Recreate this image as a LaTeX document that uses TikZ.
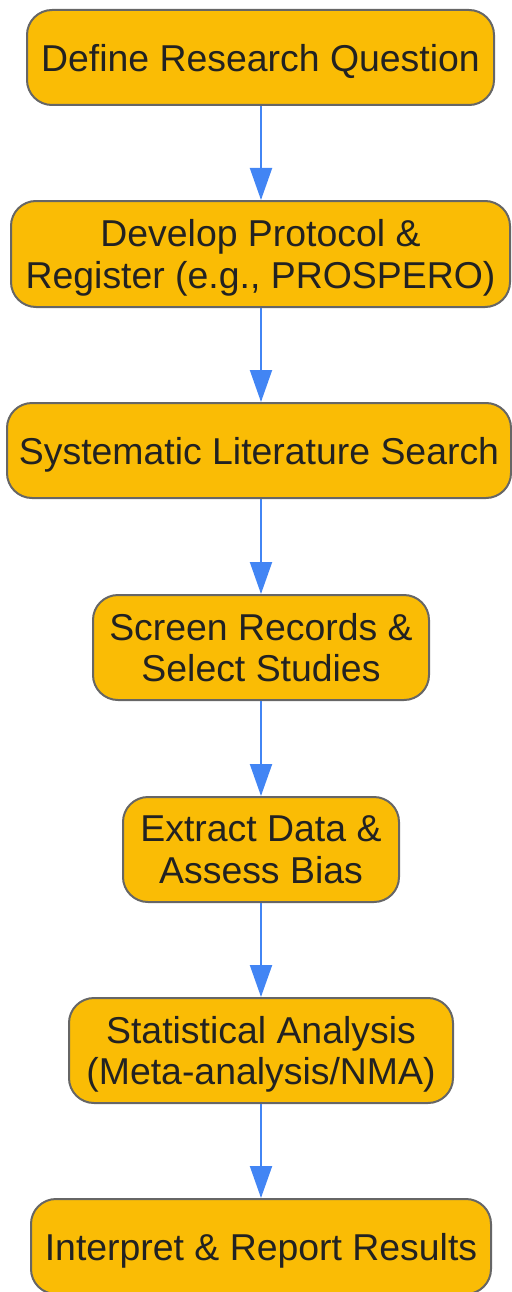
\documentclass[tikz,border=0pt]{standalone}
\usepackage{fontspec}
\setmainfont{Liberation Sans}
\usetikzlibrary{arrows.meta}
\definecolor{stepfill}{HTML}{FABC05}
\definecolor{stepline}{HTML}{666666}
\definecolor{flowarrow}{HTML}{4285F4}
\definecolor{steptext}{HTML}{222222}
\tikzset{
  stepbox/.style={draw=stepline, fill=stepfill, line width=2pt, rounded corners=25pt,
    text=steptext, align=center, inner sep=0pt, text depth=0pt,
    font=\fontsize{37.4}{41.5}\selectfont},
  flow/.style={draw=flowarrow, line width=2pt, -{Triangle[length=32pt,width=22pt]}}
}
\begin{document}
\begin{tikzpicture}[x=1pt,y=1pt,yscale=-1,xscale=1]
\useasboundingbox (0,0) rectangle (511,1292);

% Step nodes
\node [stepbox, minimum width=467pt, minimum height=95pt] (define) at (260.5,57.5) {Define Research Question};
\node [stepbox, minimum width=499pt, minimum height=106pt] (protocol) at (260.5,254) {Develop Protocol \&\\Register (e.g., PROSPERO)};
\node [stepbox, minimum width=504pt, minimum height=95pt] (search) at (259,450.5) {Systematic Literature Search};
\node [stepbox, minimum width=336pt, minimum height=105pt] (screen) at (261,647.5) {Screen Records \&\\Select Studies};
\node [stepbox, minimum width=276pt, minimum height=105pt] (extract) at (261,849.5) {Extract Data \&\\Assess Bias};
\node [stepbox, minimum width=384pt, minimum height=105pt] (analysis) at (261,1050.5) {Statistical Analysis\\(Meta-analysis/NMA)};
\node [stepbox, minimum width=460pt, minimum height=95pt] (report) at (261,1246.5) {Interpret \& Report Results};

% Arrows
\draw [flow] (define.south -| 261,0) -- (protocol.north -| 261,0);
\draw [flow] (protocol.south -| 261,0) -- (search.north -| 261,0);
\draw [flow] (search.south -| 261,0) -- (screen.north);
\draw [flow] (screen) -- (extract);
\draw [flow] (extract) -- (analysis);
\draw [flow] (analysis) -- (report);

\end{tikzpicture}
\end{document}
